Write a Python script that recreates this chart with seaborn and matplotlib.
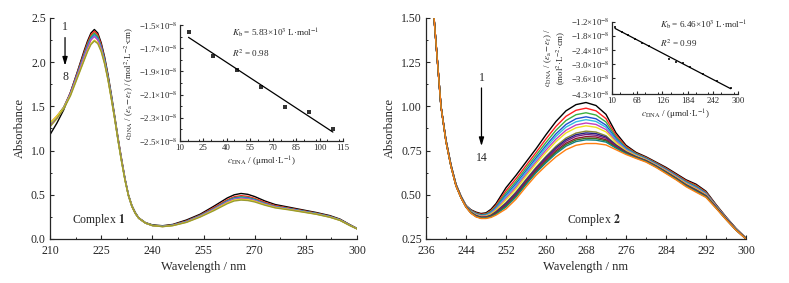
import seaborn as sns
import matplotlib.pyplot as plt
import pandas as pd
import numpy as np
from matplotlib.ticker import MultipleLocator

# стиль: только оси слева и снизу, засечки внутрь
sns.set_style("ticks")
plt.rcParams['font.family'] = ['Liberation Serif', 'DejaVu Serif']
plt.rcParams['mathtext.fontset'] = 'stix'
plt.rcParams['xtick.direction'] = 'in'
plt.rcParams['ytick.direction'] = 'in'
plt.rcParams['axes.linewidth'] = 0.9

# ---------------- Complex 1: спектры (8 кривых) ----------------
wl_1 = [210, 212, 214, 216, 218, 220, 221, 222, 223, 224, 225, 226, 227, 228, 229, 230,
        231, 232, 233, 234, 235, 236, 238, 240, 243, 246, 250, 254, 258, 262, 264, 266,
        268, 270, 273, 276, 280, 284, 288, 292, 295, 298, 300]

c1_1 = [1.18, 1.31, 1.46, 1.66, 1.89, 2.13, 2.24, 2.33, 2.37, 2.33, 2.22, 2.06, 1.86, 1.63, 1.38, 1.13,
        0.90, 0.68, 0.50, 0.38, 0.30, 0.24, 0.185, 0.16, 0.15, 0.165, 0.215, 0.28, 0.37, 0.465, 0.50, 0.515,
        0.505, 0.48, 0.43, 0.39, 0.36, 0.33, 0.30, 0.265, 0.225, 0.16, 0.12]
c1_2 = [1.31, 1.39, 1.49, 1.66, 1.88, 2.11, 2.22, 2.31, 2.35, 2.31, 2.20, 2.04, 1.84, 1.61, 1.37, 1.12,
        0.89, 0.67, 0.49, 0.37, 0.29, 0.235, 0.18, 0.155, 0.145, 0.16, 0.205, 0.27, 0.355, 0.445, 0.478, 0.49,
        0.482, 0.46, 0.415, 0.378, 0.35, 0.322, 0.293, 0.258, 0.22, 0.157, 0.118]
c1_3 = [1.30, 1.38, 1.49, 1.65, 1.87, 2.09, 2.20, 2.29, 2.33, 2.29, 2.18, 2.03, 1.83, 1.60, 1.36, 1.11,
        0.88, 0.67, 0.49, 0.37, 0.29, 0.235, 0.18, 0.155, 0.145, 0.158, 0.20, 0.265, 0.345, 0.435, 0.467, 0.478,
        0.47, 0.45, 0.405, 0.37, 0.345, 0.318, 0.29, 0.255, 0.218, 0.155, 0.117]
c1_4 = [1.29, 1.38, 1.48, 1.65, 1.86, 2.08, 2.18, 2.27, 2.31, 2.27, 2.17, 2.02, 1.82, 1.60, 1.36, 1.11,
        0.88, 0.67, 0.49, 0.37, 0.29, 0.235, 0.18, 0.153, 0.143, 0.156, 0.198, 0.262, 0.34, 0.428, 0.46, 0.47,
        0.463, 0.443, 0.40, 0.366, 0.342, 0.315, 0.288, 0.253, 0.216, 0.154, 0.116]
c1_5 = [1.30, 1.38, 1.48, 1.64, 1.85, 2.07, 2.17, 2.26, 2.30, 2.26, 2.16, 2.01, 1.82, 1.60, 1.36, 1.11,
        0.88, 0.67, 0.49, 0.37, 0.29, 0.235, 0.18, 0.153, 0.142, 0.155, 0.196, 0.26, 0.337, 0.424, 0.455, 0.465,
        0.458, 0.439, 0.397, 0.364, 0.34, 0.313, 0.286, 0.252, 0.215, 0.153, 0.116]
c1_6 = [1.28, 1.37, 1.48, 1.64, 1.85, 2.06, 2.16, 2.25, 2.29, 2.25, 2.15, 2.00, 1.81, 1.59, 1.35, 1.11,
        0.88, 0.67, 0.49, 0.37, 0.29, 0.235, 0.18, 0.152, 0.141, 0.154, 0.194, 0.257, 0.334, 0.42, 0.45, 0.46,
        0.453, 0.435, 0.394, 0.362, 0.338, 0.311, 0.284, 0.25, 0.213, 0.152, 0.115]
c1_7 = [1.31, 1.39, 1.48, 1.63, 1.83, 2.03, 2.13, 2.21, 2.25, 2.22, 2.13, 1.99, 1.80, 1.58, 1.35, 1.10,
        0.87, 0.66, 0.49, 0.37, 0.29, 0.235, 0.18, 0.152, 0.14, 0.152, 0.19, 0.252, 0.327, 0.41, 0.44, 0.45,
        0.444, 0.427, 0.388, 0.357, 0.334, 0.308, 0.282, 0.248, 0.212, 0.151, 0.115]
c1_8 = [1.27, 1.36, 1.47, 1.62, 1.82, 2.02, 2.12, 2.20, 2.24, 2.21, 2.12, 1.98, 1.80, 1.58, 1.35, 1.10,
        0.87, 0.66, 0.49, 0.37, 0.29, 0.235, 0.18, 0.151, 0.14, 0.151, 0.188, 0.248, 0.32, 0.40, 0.43, 0.44,
        0.435, 0.419, 0.382, 0.352, 0.33, 0.305, 0.28, 0.246, 0.21, 0.15, 0.114]

# ---------------- Complex 2: спектры (14 кривых) ----------------
wl_2 = [237, 238, 239, 240, 241, 242, 243, 244, 245, 246, 247, 248, 249, 250,
        252, 254, 256, 258, 260, 262, 264, 266,
        268, 270, 272, 274, 276, 278, 280, 282, 284, 286, 288, 290, 292, 294, 296, 298, 300]

c2_1 = [1.72, 1.36, 1.00, 0.81, 0.67, 0.56, 0.493, 0.44, 0.415, 0.402, 0.394, 0.398, 0.418, 0.450,
        0.54, 0.61, 0.685, 0.76, 0.84, 0.915, 0.975, 1.01,
        1.022, 1.005, 0.955, 0.85, 0.78, 0.74, 0.715, 0.685, 0.655, 0.62, 0.585, 0.56, 0.52, 0.445, 0.375, 0.31, 0.255]
c2_2 = [1.72, 1.36, 1.00, 0.809, 0.669, 0.559, 0.492, 0.439, 0.412, 0.398, 0.390, 0.393, 0.411, 0.441,
        0.523, 0.591, 0.665, 0.739, 0.816, 0.887, 0.944, 0.978,
        0.990, 0.975, 0.931, 0.837, 0.773, 0.735, 0.711, 0.681, 0.650, 0.615, 0.580, 0.554, 0.515, 0.442, 0.373, 0.309, 0.254]
c2_3 = [1.72, 1.36, 1.00, 0.808, 0.668, 0.558, 0.491, 0.438, 0.410, 0.395, 0.387, 0.390, 0.406, 0.434,
        0.510, 0.576, 0.650, 0.723, 0.796, 0.865, 0.920, 0.953,
        0.964, 0.951, 0.912, 0.826, 0.767, 0.732, 0.708, 0.678, 0.646, 0.611, 0.575, 0.549, 0.511, 0.440, 0.371, 0.308, 0.254]
c2_4 = [1.72, 1.36, 1.00, 0.807, 0.667, 0.557, 0.490, 0.437, 0.408, 0.392, 0.384, 0.386, 0.401, 0.428,
        0.498, 0.563, 0.636, 0.708, 0.779, 0.845, 0.898, 0.930,
        0.941, 0.930, 0.894, 0.817, 0.762, 0.728, 0.705, 0.675, 0.643, 0.608, 0.571, 0.544, 0.508, 0.438, 0.370, 0.307, 0.253]
c2_5 = [1.72, 1.36, 1.00, 0.806, 0.666, 0.556, 0.489, 0.436, 0.407, 0.390, 0.382, 0.384, 0.398, 0.423,
        0.490, 0.553, 0.626, 0.697, 0.767, 0.831, 0.883, 0.913,
        0.925, 0.915, 0.882, 0.810, 0.758, 0.726, 0.702, 0.672, 0.640, 0.605, 0.569, 0.541, 0.505, 0.436, 0.369, 0.306, 0.253]
c2_6 = [1.72, 1.36, 1.00, 0.805, 0.665, 0.555, 0.488, 0.435, 0.405, 0.388, 0.380, 0.381, 0.394, 0.418,
        0.480, 0.543, 0.615, 0.685, 0.753, 0.815, 0.865, 0.895,
        0.906, 0.898, 0.869, 0.803, 0.754, 0.723, 0.700, 0.670, 0.638, 0.603, 0.566, 0.538, 0.503, 0.435, 0.368, 0.305, 0.253]
c2_7 = [1.72, 1.36, 1.00, 0.804, 0.664, 0.554, 0.487, 0.434, 0.404, 0.386, 0.378, 0.379, 0.391, 0.413,
        0.472, 0.533, 0.605, 0.675, 0.740, 0.801, 0.850, 0.879,
        0.890, 0.882, 0.856, 0.796, 0.750, 0.721, 0.698, 0.668, 0.635, 0.600, 0.563, 0.534, 0.500, 0.433, 0.366, 0.304, 0.252]
c2_8 = [1.72, 1.36, 1.00, 0.803, 0.663, 0.553, 0.486, 0.433, 0.401, 0.383, 0.374, 0.375, 0.385, 0.405,
        0.456, 0.516, 0.587, 0.655, 0.718, 0.775, 0.821, 0.849,
        0.860, 0.855, 0.834, 0.784, 0.744, 0.716, 0.694, 0.664, 0.631, 0.596, 0.558, 0.529, 0.496, 0.430, 0.365, 0.303, 0.252]
c2_9 = [1.72, 1.36, 1.00, 0.803, 0.663, 0.553, 0.486, 0.433, 0.400, 0.382, 0.373, 0.374, 0.383, 0.402,
        0.451, 0.510, 0.581, 0.649, 0.711, 0.767, 0.812, 0.840,
        0.850, 0.846, 0.827, 0.780, 0.742, 0.715, 0.693, 0.663, 0.629, 0.594, 0.556, 0.527, 0.494, 0.430, 0.364, 0.303, 0.251]
c2_10 = [1.72, 1.36, 1.00, 0.802, 0.662, 0.552, 0.485, 0.432, 0.399, 0.381, 0.372, 0.373, 0.381, 0.399,
         0.446, 0.505, 0.576, 0.643, 0.704, 0.759, 0.803, 0.831,
         0.841, 0.837, 0.820, 0.776, 0.739, 0.713, 0.692, 0.662, 0.628, 0.593, 0.555, 0.525, 0.493, 0.429, 0.363, 0.302, 0.251]
c2_11 = [1.72, 1.36, 1.00, 0.802, 0.662, 0.552, 0.485, 0.432, 0.398, 0.379, 0.370, 0.371, 0.379, 0.396,
         0.440, 0.498, 0.569, 0.636, 0.695, 0.749, 0.792, 0.819,
         0.829, 0.827, 0.811, 0.771, 0.737, 0.712, 0.690, 0.660, 0.626, 0.591, 0.553, 0.523, 0.491, 0.428, 0.363, 0.302, 0.251]
c2_12 = [1.72, 1.36, 1.00, 0.801, 0.661, 0.551, 0.484, 0.431, 0.398, 0.378, 0.369, 0.370, 0.377, 0.393,
         0.436, 0.493, 0.563, 0.630, 0.688, 0.741, 0.784, 0.810,
         0.820, 0.818, 0.805, 0.767, 0.735, 0.710, 0.689, 0.659, 0.625, 0.590, 0.551, 0.521, 0.490, 0.427, 0.362, 0.301, 0.251]
c2_13 = [1.72, 1.36, 1.00, 0.801, 0.661, 0.551, 0.484, 0.431, 0.397, 0.377, 0.368, 0.369, 0.375, 0.390,
         0.431, 0.487, 0.558, 0.624, 0.681, 0.733, 0.775, 0.801,
         0.811, 0.809, 0.798, 0.764, 0.733, 0.709, 0.688, 0.658, 0.623, 0.588, 0.550, 0.519, 0.488, 0.426, 0.361, 0.301, 0.250]
c2_14 = [1.72, 1.36, 1.00, 0.80, 0.66, 0.55, 0.483, 0.43, 0.395, 0.375, 0.366, 0.366, 0.372, 0.385,
         0.42, 0.475, 0.545, 0.61, 0.665, 0.715, 0.755, 0.78,
         0.79, 0.79, 0.782, 0.755, 0.728, 0.706, 0.685, 0.655, 0.62, 0.585, 0.546, 0.515, 0.485, 0.424, 0.36, 0.30, 0.25]

# ---------------- вставки: c_DNA / (ea - ef) против c_DNA ----------------
ins1_x = [15.5, 31, 46.5, 62, 77.5, 93, 108.5]                       # мкмоль/л
ins1_y = [-1.558, -1.770, -1.885, -2.032, -2.207, -2.253, -2.399]    # x1e-8
ins2_x = [16.9, 32.3, 47.6, 62.9, 79.8, 95.2, 141.9, 157.3, 172.7, 189.5, 220.1, 252.4, 283.2]
ins2_y = [-1.44, -1.63, -1.76, -1.93, -2.10, -2.25, -2.81, -2.91, -2.98, -3.12, -3.43, -3.73, -4.05]

kb_1 = "5.83"
kb_2 = "6.46"
r2_1 = "0.98"
r2_2 = "0.99"

# цвета как в Origin
origin_colors = ['#000000', '#ff2020', '#3cb040', '#1f4fd0', '#30c0e0', '#c040c0', '#f0e020',
                 '#8a8a30', '#202080', '#702080', '#901030', '#407020', '#108080', '#ff7f10']
colors_1 = ['#000000', '#ff2020', '#3cb040', '#1f4fd0', '#30c0e0', '#c040c0', '#e8e020', '#9a9a30']


def to_long(wl, curves):
    frames = []
    for i, c in enumerate(curves):
        frames.append(pd.DataFrame({'wl': wl, 'A': c, 'curve': str(i + 1)}))
    return pd.concat(frames, ignore_index=True)


df1 = to_long(wl_1, [c1_1, c1_2, c1_3, c1_4, c1_5, c1_6, c1_7, c1_8])
df2 = to_long(wl_2, [c2_1, c2_2, c2_3, c2_4, c2_5, c2_6, c2_7, c2_8, c2_9, c2_10, c2_11, c2_12, c2_13, c2_14])

MAIN_FS = 8.5
INS_FS = 6.3

fig = plt.figure(figsize=(7.89, 2.83), dpi=100)


def style_axes(ax, fs, major=3, minor=1.6, xpad=2, ypad=2):
    sns.despine(ax=ax)
    ax.tick_params(which='major', length=major, width=0.8, labelsize=fs)
    ax.tick_params(axis='x', pad=xpad)
    ax.tick_params(axis='y', pad=ypad)
    ax.tick_params(which='minor', length=minor, width=0.7)
    ax.tick_params(axis='both', which='both', top=False, right=False)


# ===== левая панель =====
ax1 = fig.add_axes([0.0634, 0.1555, 0.3891, 0.7809])
sns.lineplot(data=df1, x='wl', y='A', hue='curve', hue_order=[str(i) for i in range(1, 9)],
             palette=colors_1, estimator=None, sort=False, legend=False, lw=1.0, ax=ax1)
ax1.set_xlim(210, 300)
ax1.set_ylim(0, 2.5)
ax1.set_xticks(np.arange(210, 301, 15))
ax1.set_yticks(np.arange(0, 2.51, 0.5))
ax1.set_yticklabels([f'{v:.1f}' for v in np.arange(0, 2.51, 0.5)])
ax1.xaxis.set_minor_locator(MultipleLocator(7.5))
ax1.yaxis.set_minor_locator(MultipleLocator(0.25))
style_axes(ax1, MAIN_FS, xpad=4.5, ypad=3)
ax1.set_xlabel('Wavelength / nm', fontsize=MAIN_FS + 0.5, labelpad=3)
ax1.set_ylabel('Absorbance', fontsize=MAIN_FS + 0.5, labelpad=4)
ax1.annotate('', xy=(214.4, 1.93), xytext=(214.4, 2.31),
             arrowprops=dict(arrowstyle='-|>,head_length=0.5,head_width=0.15', color='k', lw=0.9))
ax1.text(214.4, 2.40, '1', ha='center', va='center', fontsize=MAIN_FS)
ax1.text(214.4, 1.83, '8', ha='center', va='center', fontsize=MAIN_FS)
ax1.text(216.3, 0.21, r'Complex $\mathbf{1}$', ha='left', va='center', fontsize=MAIN_FS)

# вставка 1
in1 = fig.add_axes([0.2281, 0.5018, 0.2066, 0.4099])
sns.regplot(x=ins1_x, y=ins1_y, ci=None, marker='s', color='k', ax=in1,
            scatter_kws={'s': 9, 'linewidths': 0}, line_kws={'lw': 0.9})
in1.set_xlim(10, 115)
in1.set_ylim(-2.5, -1.5)
in1.set_xticks(np.arange(10, 116, 15))
y1t = [-1.5, -1.7, -1.9, -2.1, -2.3, -2.5]
in1.set_yticks(y1t)
in1.set_yticklabels([('\u2212%.1f\u00d710' % abs(v)) + r'$^{-8}$' for v in y1t])
in1.xaxis.set_minor_locator(MultipleLocator(7.5))
in1.yaxis.set_minor_locator(MultipleLocator(0.1))
in1.patch.set_alpha(0)
style_axes(in1, INS_FS, major=2.2, minor=1.2)
in1.set_xlabel(r'$c_{\rm DNA}$ / (μmol·L$^{-1}$)', fontsize=INS_FS + 0.3, labelpad=2)
in1.set_ylabel(r'$c_{\rm DNA}$ / ($\varepsilon_{\rm a}-\varepsilon_{\rm f}$) / (mol$^2$·L$^{-2}$·cm)',
               fontsize=INS_FS, labelpad=2)
in1.text(0.317, 0.931, r'$K_{\rm b}$ = ' + kb_1 + r'×10$^3$ L·mol$^{-1}$', transform=in1.transAxes,
         ha='left', va='center', fontsize=INS_FS + 0.3)
in1.text(0.317, 0.756, r'$R^2$ = ' + r2_1, transform=in1.transAxes,
         ha='left', va='center', fontsize=INS_FS + 0.3)

# ===== правая панель =====
ax2 = fig.add_axes([0.5399, 0.1555, 0.4056, 0.7809])
sns.lineplot(data=df2, x='wl', y='A', hue='curve', hue_order=[str(i) for i in range(1, 15)],
             palette=origin_colors, estimator=None, sort=False, legend=False, lw=1.0, ax=ax2)
ax2.set_xlim(236, 300)
ax2.set_ylim(0.25, 1.50)
ax2.set_xticks(np.arange(236, 301, 8))
ax2.set_yticks(np.arange(0.25, 1.51, 0.25))
ax2.set_yticklabels([f'{v:.2f}' for v in np.arange(0.25, 1.51, 0.25)])
ax2.xaxis.set_minor_locator(MultipleLocator(4))
ax2.yaxis.set_minor_locator(MultipleLocator(0.125))
style_axes(ax2, MAIN_FS, xpad=4.5, ypad=3)
ax2.set_xlabel('Wavelength / nm', fontsize=MAIN_FS + 0.5, labelpad=3)
ax2.set_ylabel('Absorbance', fontsize=MAIN_FS + 0.5, labelpad=4)
ax2.annotate('', xy=(247.1, 0.76), xytext=(247.1, 1.12),
             arrowprops=dict(arrowstyle='-|>,head_length=0.5,head_width=0.15', color='k', lw=0.9))
ax2.text(247.1, 1.16, '1', ha='center', va='center', fontsize=MAIN_FS)
ax2.text(247.1, 0.71, '14', ha='center', va='center', fontsize=MAIN_FS)
ax2.text(264.3, 0.36, r'Complex $\mathbf{2}$', ha='left', va='center', fontsize=MAIN_FS)

# вставка 2
in2 = fig.add_axes([0.7757, 0.6668, 0.1597, 0.2565])
sns.regplot(x=ins2_x, y=ins2_y, ci=None, marker='s', color='k', ax=in2,
            scatter_kws={'s': 4, 'linewidths': 0}, line_kws={'lw': 0.9})
in2.set_xlim(10, 300)
in2.set_ylim(-4.3, -1.2)
in2.set_xticks(np.arange(10, 301, 58))
y2t = [-1.2, -1.8, -2.4, -3.0, -3.6, -4.3]
in2.set_yticks(y2t)
in2.set_yticklabels([('\u2212%.1f\u00d710' % abs(v)) + r'$^{-8}$' for v in y2t])
in2.xaxis.set_minor_locator(MultipleLocator(29))
in2.patch.set_alpha(0)
style_axes(in2, INS_FS, major=2.2, minor=1.2)
in2.set_xlabel(r'$c_{\rm DNA}$ / (μmol·L$^{-1}$)', fontsize=INS_FS + 0.3, labelpad=2)
in2.set_ylabel(r'$c_{\rm DNA}$ / ($\varepsilon_{\rm a}-\varepsilon_{\rm f}$) /' + '\n' +
               r'(mol$^2$·L$^{-2}$·cm)', fontsize=INS_FS, labelpad=2, linespacing=1.1)
in2.text(0.381, 0.955, r'$K_{\rm b}$ = ' + kb_2 + r'×10$^3$ L·mol$^{-1}$', transform=in2.transAxes,
         ha='left', va='center', fontsize=INS_FS + 0.3)
in2.text(0.381, 0.70, r'$R^2$ = ' + r2_2, transform=in2.transAxes,
         ha='left', va='center', fontsize=INS_FS + 0.3)

fig.savefig('out.png', dpi=100)
